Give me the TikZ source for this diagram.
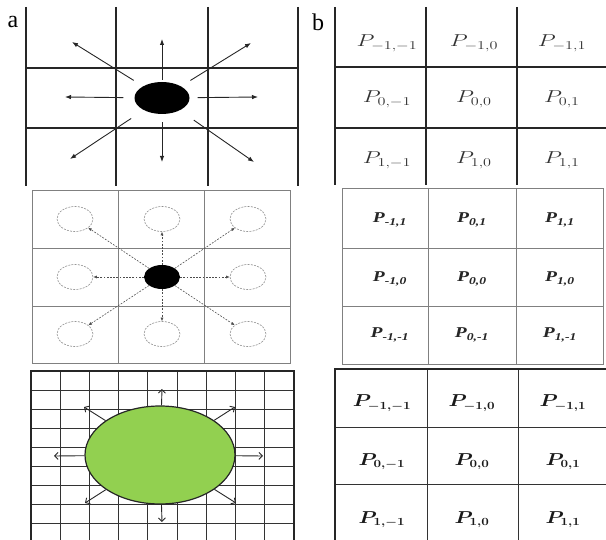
\documentclass[tikz,border=0pt]{standalone}
\usepackage{fontspec}
\usepackage{amsmath}
\usepackage{graphicx}
\usetikzlibrary{arrows.meta,shapes.geometric}
\newfontfamily\tnr{Liberation Serif}
\definecolor{lgreen}{HTML}{92D050}
\definecolor{ink}{HTML}{333333}
\begin{document}
\begin{tikzpicture}[x=1pt,y=-1pt,
  gridA/.style={line width=1.2pt,draw=black!85},
  gridM/.style={line width=0.7pt,draw=black!50},
  gridB/.style={line width=0.9pt,draw=black!80},
  border/.style={line width=1.8pt,draw=black!85},
  arrA/.style={line width=0.9pt,draw=black!85,-{Latex[length=6pt,width=4.5pt]}},
  arrM/.style={line width=0.6pt,draw=black!70,dash pattern=on 1.8pt off 1.4pt,-{Latex[length=3.5pt,width=3pt]}},
  ghost/.style={ellipse,draw=black!45,dash pattern=on 2pt off 1.2pt,line width=0.6pt,minimum width=36pt,minimum height=25pt,inner sep=0pt},
  arrG/.style={line width=0.9pt,draw=black!85,-{Straight Barb[length=3.5pt,width=7pt]}},
  panel/.style={font=\tnr\fontsize{24}{28}\selectfont,inner sep=0pt},
  labT/.style={text=ink,inner sep=0pt,anchor=base,font=\fontsize{17}{20}\selectfont},
  labM/.style={text=black!85,inner sep=0pt,anchor=base,font=\tnr\bfseries\itshape\fontsize{15}{18}\selectfont},
  labB/.style={text=black!90,inner sep=0pt,anchor=base,font=\fontsize{16}{19}\selectfont}
]
\useasboundingbox (0,0) rectangle (606,540);

% panel labels
\node[panel] (la) at (13,22) {a};
\node[panel] (lb) at (318,22) {b};

% ---------- a, top ----------
\foreach \x in {26,116,208,298} \draw[gridA] (\x,7) -- (\x,186);
\foreach \y in {68,128} \draw[gridA] (26,\y) -- (298,\y);
\node[ellipse,fill=black,minimum width=55pt,minimum height=32pt,inner sep=0pt] (ea) at (162,98) {};
\foreach \n/\ex/\ey/\s in {u/162/39/2, d/162/162/8, l/65/97/11, r/258/97/8, ul/72/42/11, ur/251/43/11, dl/70/159/15, dr/254/162/17}{
  \coordinate (ea\n) at (\ex,\ey);
  \draw[arrA,shorten <=\s pt] (ea) -- (ea\n);
}

% ---------- b, top ----------
\foreach \x in {335,426,517} \draw[gridA] (\x,7) -- (\x,185);
\foreach \y in {67,128} \draw[gridA] (335,\y) -- (606,\y);
\node[labT] (t11) at (387,47) {\scalebox{1.35}[1]{$P_{-1,-1}$}};
\node[labT] (t12) at (474,47) {\scalebox{1.35}[1]{$P_{-1,0}$}};
\node[labT] (t13) at (562,47) {\scalebox{1.35}[1]{$P_{-1,1}$}};
\node[labT] (t21) at (387,103) {\scalebox{1.35}[1]{$P_{0,-1}$}};
\node[labT] (t22) at (474,103) {\scalebox{1.35}[1]{$P_{0,0}$}};
\node[labT] (t23) at (562,103) {\scalebox{1.35}[1]{$P_{0,1}$}};
\node[labT] (t31) at (387,164) {\scalebox{1.35}[1]{$P_{1,-1}$}};
\node[labT] (t32) at (474,164) {\scalebox{1.35}[1]{$P_{1,0}$}};
\node[labT] (t33) at (562,164) {\scalebox{1.35}[1]{$P_{1,1}$}};

% ---------- a, middle ----------
\draw[gridM] (32,190) rectangle (290,363);
\foreach \x in {118,204} \draw[gridM] (\x,190) -- (\x,363);
\foreach \y in {248,306} \draw[gridM] (32,\y) -- (290,\y);
\node[ellipse,fill=black,minimum width=36pt,minimum height=24pt,inner sep=0pt] (cm) at (162,277) {};
\node[ghost] (g11) at (75,219) {};
\node[ghost] (g12) at (162,219) {};
\node[ghost] (g13) at (248,219) {};
\node[ghost] (g21) at (75,277) {};
\node[ghost] (g23) at (248,277) {};
\node[ghost] (g31) at (75,334) {};
\node[ghost] (g32) at (162,334) {};
\node[ghost] (g33) at (248,334) {};
\foreach \g in {g11,g12,g13,g21,g23,g31,g32,g33} \draw[arrM] (cm) -- (\g);

% ---------- b, middle ----------
\draw[gridM] (342,188) rectangle (603,364);
\foreach \x in {428,516} \draw[gridM] (\x,188) -- (\x,364);
\foreach \y in {248,306} \draw[gridM] (342,\y) -- (603,\y);
\node[labM] (m11) at (390,223) {\scalebox{1.3}[1]{P\textsubscript{-1,1}}};
\node[labM] (m12) at (472,223) {\scalebox{1.3}[1]{P\textsubscript{0,1}}};
\node[labM] (m13) at (560,223) {\scalebox{1.3}[1]{P\textsubscript{1,1}}};
\node[labM] (m21) at (390,282) {\scalebox{1.3}[1]{P\textsubscript{-1,0}}};
\node[labM] (m22) at (472,282) {\scalebox{1.3}[1]{P\textsubscript{0,0}}};
\node[labM] (m23) at (560,282) {\scalebox{1.3}[1]{P\textsubscript{1,0}}};
\node[labM] (m31) at (390,338) {\scalebox{1.3}[1]{P\textsubscript{-1,-1}}};
\node[labM] (m32) at (472,338) {\scalebox{1.3}[1]{P\textsubscript{0,-1}}};
\node[labM] (m33) at (560,338) {\scalebox{1.3}[1]{P\textsubscript{1,-1}}};

% ---------- a, bottom ----------
\foreach \i in {1,...,8} \draw[gridB] ({31+29.2*\i},371) -- ({31+29.2*\i},540);
\foreach \j in {1,...,8} \draw[gridB] (31,{371+19*\j}) -- (294,{371+19*\j});
\draw[border] (31,540) -- (31,371) -- (294,371) -- (294,540);
\node[ellipse,fill=lgreen,draw=black!85,line width=1.2pt,minimum width=150pt,minimum height=98pt,inner sep=0pt] (eg) at (160,455) {};
\foreach \n/\ex/\ey in {u/162/389, d/162/522, l/54/456, r/263/456, ul/84/407, ur/235/407, dl/85/503, dr/236/503}{
  \coordinate (eg\n) at (\ex,\ey);
  \draw[arrG] (eg) -- (eg\n);
}

% ---------- b, bottom ----------
\foreach \x in {427,518} \draw[gridB] (\x,369) -- (\x,540);
\foreach \y in {427,484} \draw[gridB] (335,\y) -- (606,\y);
\draw[border] (335,540) -- (335,369) -- (606,369);
\node[labB] (b11) at (382,407) {\scalebox{1.2}[1]{\boldmath$P_{-1,-1}$}};
\node[labB] (b12) at (472,407) {\scalebox{1.2}[1]{\boldmath$P_{-1,0}$}};
\node[labB] (b13) at (563,407) {\scalebox{1.2}[1]{\boldmath$P_{-1,1}$}};
\node[labB] (b21) at (382,465) {\scalebox{1.2}[1]{\boldmath$P_{0,-1}$}};
\node[labB] (b22) at (472,465) {\scalebox{1.2}[1]{\boldmath$P_{0,0}$}};
\node[labB] (b23) at (563,465) {\scalebox{1.2}[1]{\boldmath$P_{0,1}$}};
\node[labB] (b31) at (382,523) {\scalebox{1.2}[1]{\boldmath$P_{1,-1}$}};
\node[labB] (b32) at (472,523) {\scalebox{1.2}[1]{\boldmath$P_{1,0}$}};
\node[labB] (b33) at (563,523) {\scalebox{1.2}[1]{\boldmath$P_{1,1}$}};
\end{tikzpicture}
\end{document}
